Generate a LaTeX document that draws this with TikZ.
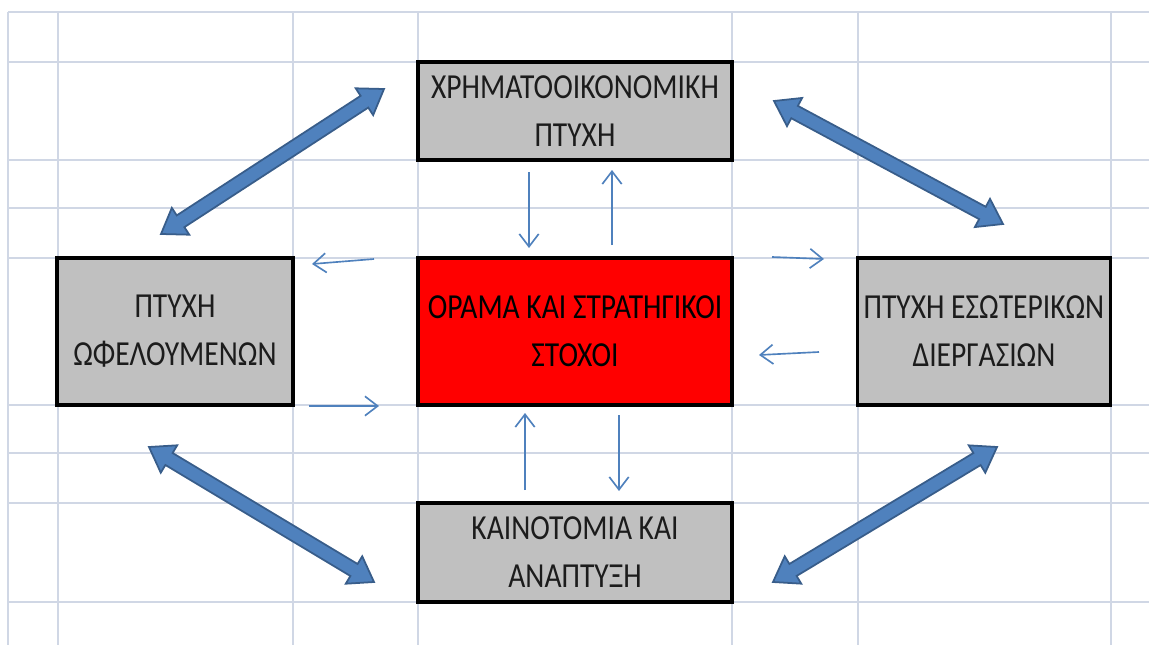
\documentclass[tikz,border=0pt]{standalone}
\usepackage{fontspec}
\setmainfont{Carlito}
\newfontfamily\cellfont[FakeStretch=0.84]{Carlito}
\usetikzlibrary{arrows.meta,calc}

\definecolor{gridline}{HTML}{D0D7E5}
\definecolor{cellgray}{HTML}{C0C0C0}
\definecolor{officeblue}{HTML}{4F81BD}
\definecolor{officeblueedge}{HTML}{385D8A}
\definecolor{celltext}{HTML}{1C1C1C}

\tikzset{
  cellbox/.style={draw=black, line width=3.2pt, fill=cellgray,
    minimum width=#1, inner sep=0pt, align=center,
    font=\cellfont\fontsize{30}{41}\selectfont, text=celltext},
  flowarrow/.style={draw=officeblue, line width=1.4pt,
    -{Straight Barb[length=0.38cm,width=0.58cm,line width=1.4pt]}},
  bigarrow/.style={fill=officeblue, draw=officeblueedge, line width=1.5pt,
    line join=miter},
  gridrule/.style={draw=gridline, line width=1.6pt}
}

% double-headed block arrow between two named coordinates
\newcommand{\blockarrow}[2]{%
  \path ($(#1)!0.7cm!(#2)$) coordinate (ha)
        ($(#2)!0.7cm!(#1)$) coordinate (hb);
  \filldraw[bigarrow] (#1)
    -- ($(ha)!0.48cm!90:(#2)$) -- ($(ha)!0.21cm!90:(#2)$)
    -- ($(hb)!0.21cm!-90:(#1)$) -- ($(hb)!0.48cm!-90:(#1)$)
    -- (#2)
    -- ($(hb)!0.48cm!90:(#1)$) -- ($(hb)!0.21cm!90:(#1)$)
    -- ($(ha)!0.21cm!-90:(#2)$) -- ($(ha)!0.48cm!-90:(#2)$)
    -- cycle;}

\begin{document}
\begin{tikzpicture}[x=0.03cm, y=-0.03cm]
  \useasboundingbox[fill=white] (0,0) rectangle (1149,645);

  % spreadsheet grid
  \foreach \gy in {12,62,160,208,258,405,453,503,602}
    \draw[gridrule] (8,\gy) -- (1149,\gy);
  \foreach \gx in {8,58,293,418,732,858,1111}
    \draw[gridrule] (\gx,12) -- (\gx,645);

  % boxes
  \node[cellbox=314*0.03cm, minimum height=98*0.03cm] (finance) at (575,111)
    {ΧΡΗΜΑΤΟΟΙΚΟΝΟΜΙΚΗ\\ΠΤΥΧΗ};
  \node[cellbox=236*0.03cm, minimum height=147*0.03cm] (customers) at (175,331.5)
    {ΠΤΥΧΗ\\ΩΦΕΛΟΥΜΕΝΩΝ};
  \node[cellbox=314*0.03cm, minimum height=147*0.03cm, fill=red, text=black] (vision) at (575,331.5)
    {ΟΡΑΜΑ ΚΑΙ ΣΤΡΑΤΗΓΙΚΟΙ\\ΣΤΟΧΟΙ};
  \node[cellbox=253*0.03cm, minimum height=147*0.03cm] (process) at (984,331.5)
    {ΠΤΥΧΗ ΕΣΩΤΕΡΙΚΩΝ\\ΔΙΕΡΓΑΣΙΩΝ};
  \node[cellbox=314*0.03cm, minimum height=99*0.03cm] (innovation) at (575,552.5)
    {ΚΑΙΝΟΤΟΜΙΑ ΚΑΙ\\ΑΝΑΠΤΥΞΗ};

  % end points of the thin arrows
  \coordinate (fd1) at (529,172);  \coordinate (fd2) at (529,248);
  \coordinate (fu1) at (612,245);  \coordinate (fu2) at (612,170);
  \coordinate (cl1) at (374,259);  \coordinate (cl2) at (312,264);
  \coordinate (cr1) at (309,406);  \coordinate (cr2) at (379,406);
  \coordinate (pr1) at (772,257);  \coordinate (pr2) at (824,259);
  \coordinate (pl1) at (819,352);  \coordinate (pl2) at (759,355);
  \coordinate (iu1) at (525,490);  \coordinate (iu2) at (525,413);
  \coordinate (id1) at (619,415);  \coordinate (id2) at (619,491);

  \draw[flowarrow] (fd1) -- (fd2);
  \draw[flowarrow] (fu1) -- (fu2);
  \draw[flowarrow] (cl1) -- (cl2);
  \draw[flowarrow] (cr1) -- (cr2);
  \draw[flowarrow] (pr1) -- (pr2);
  \draw[flowarrow] (pl1) -- (pl2);
  \draw[flowarrow] (iu1) -- (iu2);
  \draw[flowarrow] (id1) -- (id2);

  % end points of the block arrows
  \coordinate (a1) at (161,234);  \coordinate (a2) at (384,89);
  \coordinate (b1) at (774,101);  \coordinate (b2) at (1003,224);
  \coordinate (c1) at (149,447);  \coordinate (c2) at (374,582);
  \coordinate (d1) at (773,582);  \coordinate (d2) at (997,447);

  \blockarrow{a1}{a2}
  \blockarrow{b1}{b2}
  \blockarrow{c1}{c2}
  \blockarrow{d1}{d2}
\end{tikzpicture}
\end{document}
